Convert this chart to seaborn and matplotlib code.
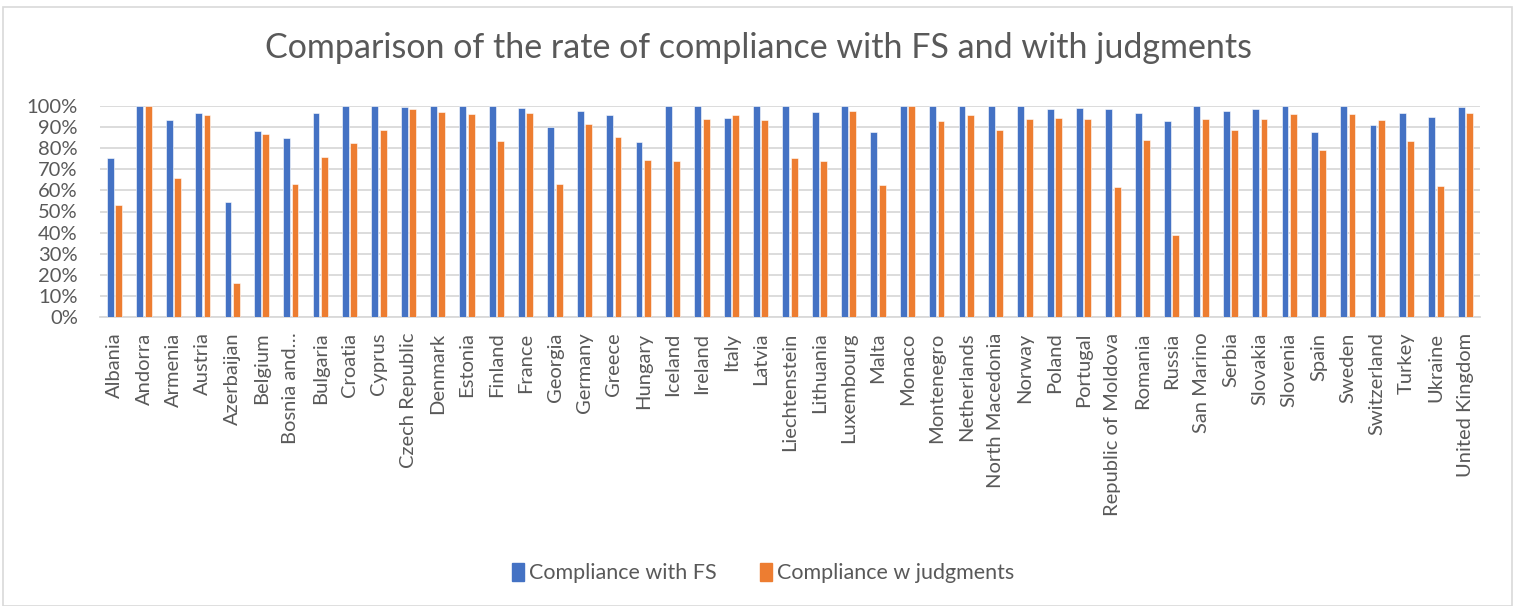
import matplotlib
matplotlib.use("Agg")
import matplotlib.pyplot as plt
import matplotlib.patches as mpatches
import seaborn as sns
import pandas as pd

countries = [
    "Albania", "Andorra", "Armenia", "Austria", "Azerbaijan", "Belgium",
    "Bosnia and…", "Bulgaria", "Croatia", "Cyprus", "Czech Republic",
    "Denmark", "Estonia", "Finland", "France", "Georgia", "Germany",
    "Greece", "Hungary", "Iceland", "Ireland", "Italy", "Latvia",
    "Liechtenstein", "Lithuania", "Luxembourg", "Malta", "Monaco",
    "Montenegro", "Netherlands", "North Macedonia", "Norway", "Poland",
    "Portugal", "Republic of Moldova", "Romania", "Russia", "San Marino",
    "Serbia", "Slovakia", "Slovenia", "Spain", "Sweden", "Switzerland",
    "Turkey", "Ukraine", "United Kingdom",
]

compliance_fs = [
    75.1, 100, 93.2, 96.4, 54.3, 88.0, 84.7, 96.4, 100, 100, 99.2,
    100, 100, 100, 98.7, 90.1, 97.3, 95.7, 83.0, 100, 100, 94.2, 100,
    100, 96.9, 100, 87.4, 100, 100, 100, 100, 100, 98.6, 98.7, 98.6,
    96.5, 92.6, 100, 97.3, 98.3, 100, 87.4, 100, 90.9, 96.5, 94.6, 99.5,
]

compliance_judgments = [
    53.1, 100, 66.0, 95.6, 16.1, 86.5, 63.0, 75.7, 82.2, 88.5, 98.6,
    97.0, 96.1, 83.1, 96.5, 62.8, 91.2, 85.0, 74.3, 73.9, 93.5, 95.4, 93.2,
    75.1, 73.9, 97.3, 62.5, 100, 92.6, 95.6, 88.3, 93.5, 94.2, 93.9, 61.6,
    83.6, 39.1, 93.7, 88.5, 93.5, 96.1, 79.1, 95.9, 93.2, 83.5, 62.0, 96.7,
]

series_names = ["Compliance with FS", "Compliance w judgments"]
y_ticks = list(range(0, 101, 10))

df = pd.DataFrame({
    "Country": countries * 2,
    "Series": [series_names[0]] * len(countries) + [series_names[1]] * len(countries),
    "Rate": compliance_fs + compliance_judgments,
})

sns.set_theme(style="white")
plt.rcParams["font.family"] = ["Lato", "DejaVu Sans"]

text_color = "#595959"
palette = {series_names[0]: "#4472C4", series_names[1]: "#ED7D31"}

W, H = 1517, 606
fig = plt.figure(figsize=(W / 100, H / 100), dpi=100)
ax = fig.add_axes([100 / W, 1 - 317.3 / H, (1480 - 100) / W, (317.3 - 105.7) / H])

sns.barplot(
    data=df, x="Country", y="Rate", hue="Series", order=countries,
    hue_order=series_names, palette=palette, width=0.57, gap=0.18,
    saturation=1, edgecolor="white", linewidth=0.4, legend=False, ax=ax,
    zorder=3,
)

ax.set_ylim(0, 100)
ax.set_xlim(-0.5, len(countries) - 0.5)
ax.set_yticks(y_ticks)
ax.set_yticklabels([f"{t}%" for t in y_ticks])
ax.yaxis.grid(True, color="#D9D9D9", linewidth=1.3, zorder=0)
ax.set_axisbelow(True)
for side in ["top", "right", "left"]:
    ax.spines[side].set_visible(False)
ax.spines["bottom"].set_color("#D9D9D9")
ax.spines["bottom"].set_linewidth(1.3)
ax.set_xlabel("")
ax.set_ylabel("")
ax.tick_params(axis="x", length=0, pad=11, labelsize=14.5, labelcolor=text_color,
               labelrotation=90)
ax.tick_params(axis="y", length=0, pad=16, labelsize=14.5, labelcolor=text_color)

fig.text(0.5, 1 - 48 / H, "Comparison of the rate of compliance with FS and with judgments",
         ha="center", va="center", fontsize=24.5, color=text_color)

handles = [mpatches.Patch(color=palette[s], label=s) for s in series_names]
fig.legend(handles=handles, loc="center", bbox_to_anchor=(763 / W, 1 - 573 / H),
           ncol=2, frameon=False, fontsize=15.5, labelcolor=text_color,
           handlelength=0.55, handleheight=0.9, handletextpad=0.25, columnspacing=2.0)

border = mpatches.Rectangle((3 / W, 0), (1512 - 3) / W, 1 - 7 / H, transform=fig.transFigure,
                            fill=False, edgecolor="#D9D9D9", linewidth=1.2)
fig.patches.append(border)

fig.savefig("out.png", dpi=100, facecolor="white")
